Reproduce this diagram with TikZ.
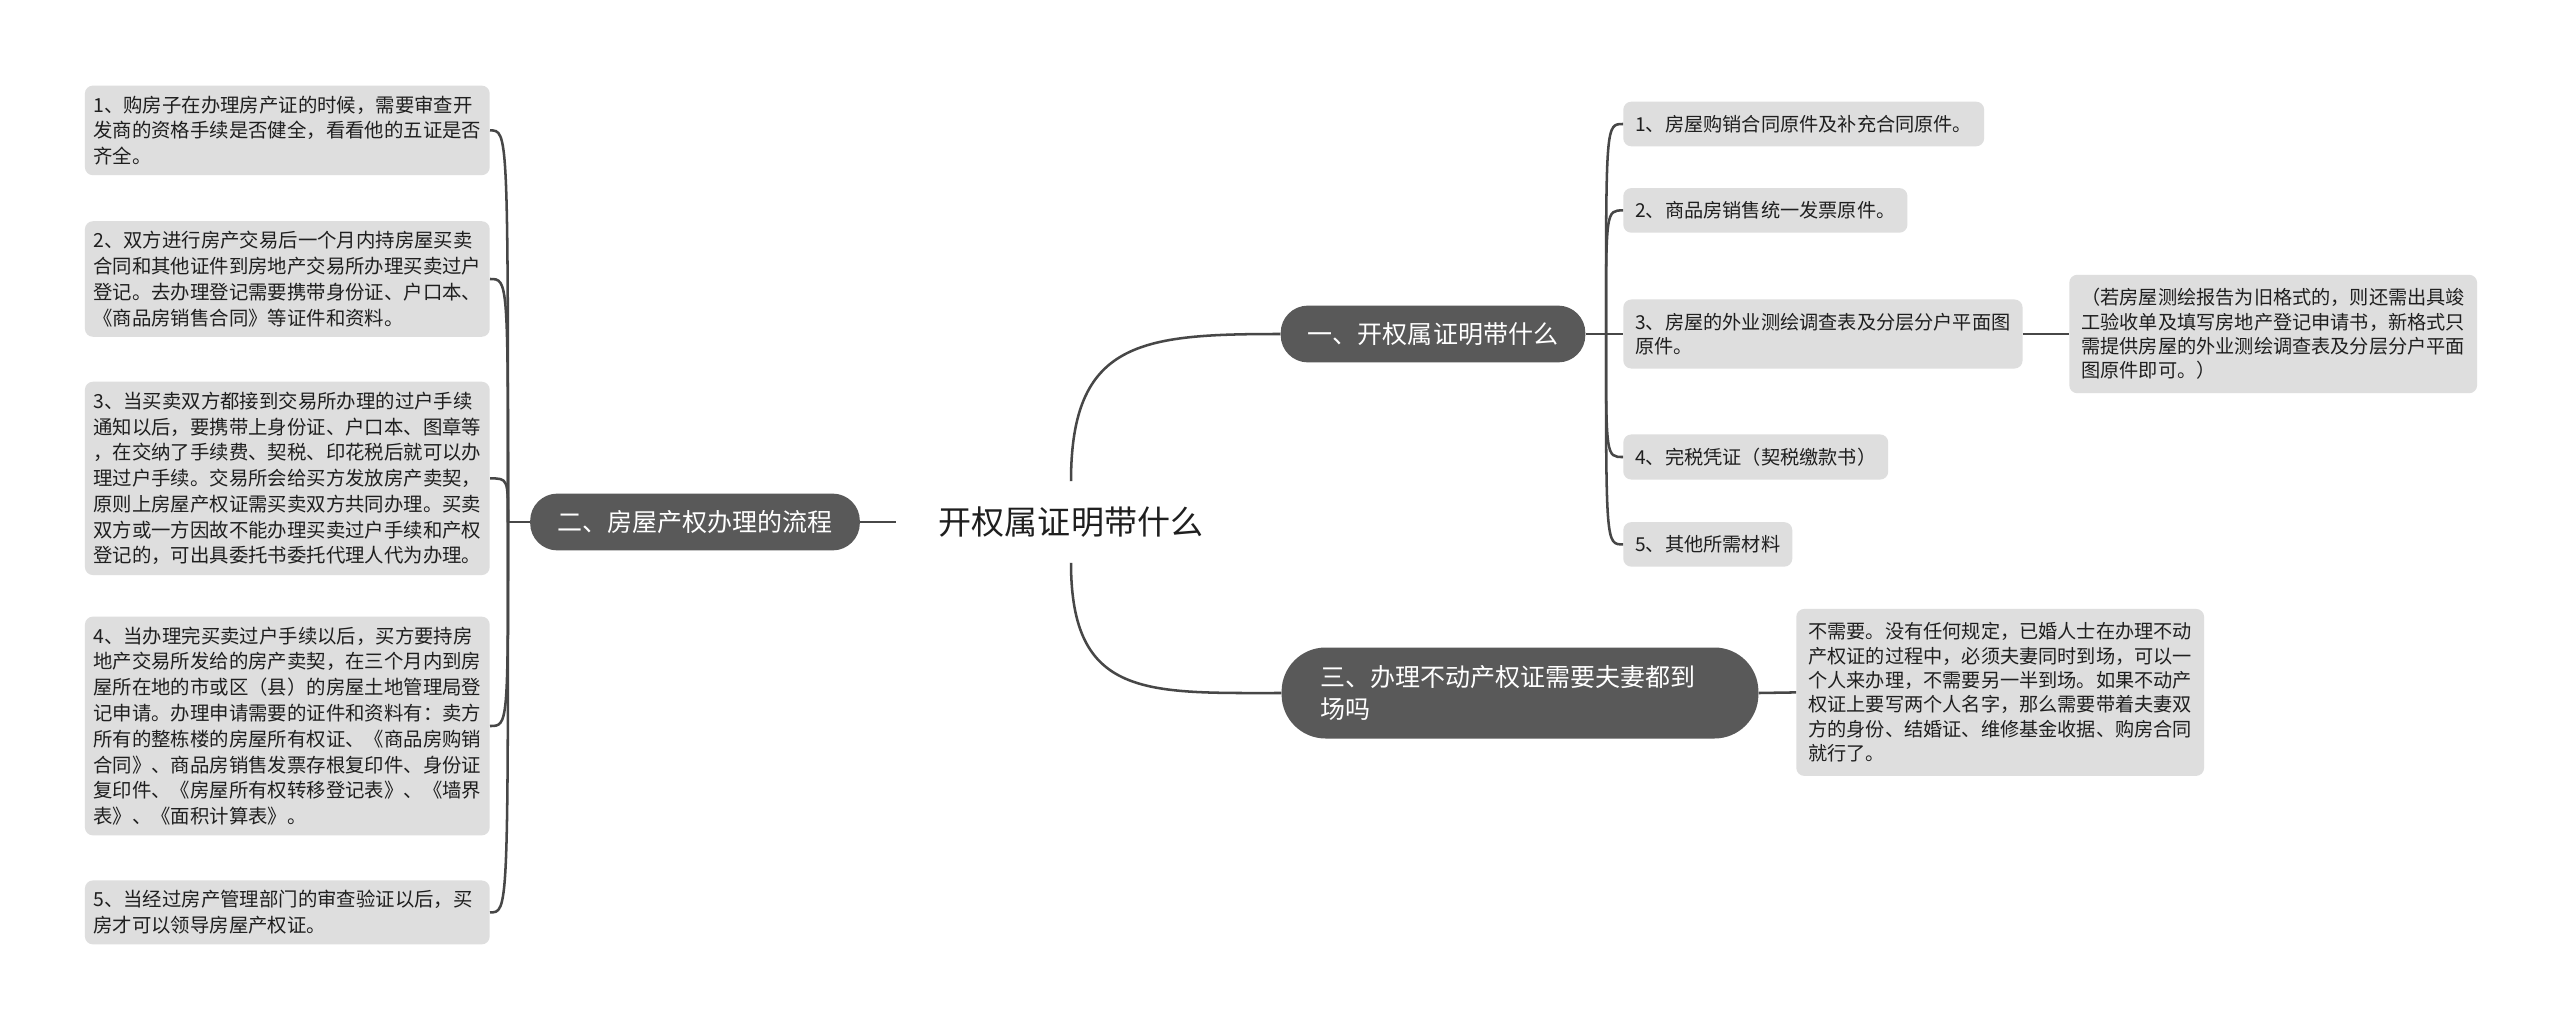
\documentclass[tikz,border=0pt]{standalone}
\usepackage{fontspec}
\setmainfont{Noto Sans CJK SC}
\definecolor{pillgray}{HTML}{595959}
\definecolor{boxgray}{HTML}{DEDEDE}
\definecolor{linkgray}{HTML}{474747}
\definecolor{inkgray}{HTML}{1F1F1F}

\begin{document}
\begin{tikzpicture}[
    root/.style={font=\fontsize{23.5}{28}\selectfont, text=inkgray,
      inner xsep=1.075cm, inner ysep=0pt, minimum height=2.025cm},
    pill/.style={fill=pillgray, text=white, rounded corners=0.68cm,
      font=\fontsize{17.8}{22.8}\selectfont, inner xsep=0.68cm,
      minimum height=1.42cm},
    lbox/.style={fill=boxgray, rounded corners=0.2cm, align=left,
      text width=9.7cm, inner xsep=0.21cm, inner ysep=0.25cm,
      font=\fontsize{13.8}{18.35}\selectfont, text=inkgray, anchor=east},
    rbox/.style={fill=boxgray, rounded corners=0.2cm, align=left,
      inner xsep=0.3cm, inner ysep=0.335cm,
      font=\fontsize{13.65}{17.4}\selectfont, text=inkgray, anchor=west},
    link/.style={draw=linkgray, line width=1.8pt}
  ]
  \fill[white] (0,0) rectangle (64,-25.775);
  \useasboundingbox (0,0) rectangle (64,-25.775);
  %---- centre ----
  \node[root] (root) at (26.775,-13.05) {开权属证明带什么};
  \node[pill] (b1) at (35.825,-8.35) {一、开权属证明带什么};
  \node[pill] (b2) at (17.375,-13.05) {二、房屋产权办理的流程};
  \node[pill, rounded corners=1.1cm, minimum height=2.275cm, align=left,
    text width=10cm, inner xsep=0.96cm] (b3) at (38.0,-17.325)
    {三、办理不动产权证需要夫妻都到\\场吗};
  \draw[link] (root.north) to[out=90,in=180,looseness=1.4] (b1.west);
  \draw[link] (root.south) to[out=-90,in=180,looseness=1.4] (b3.west);
  \draw[link] (root.west) -- (b2.east);
  %---- left: process ----
  \node[lbox] (l1) at (12.25,-3.26)
    {1、购房子在办理房产证的时候，需要审查开\\
     发商的资格手续是否健全，看看他的五证是否\\
     齐全。};
  \node[lbox] (l2) at (12.25,-6.975)
    {2、双方进行房产交易后一个月内持房屋买卖\\
     合同和其他证件到房地产交易所办理买卖过户\\
     登记。去办理登记需要携带身份证、户口本、\\
     《商品房销售合同》等证件和资料。};
  \node[lbox] (l3) at (12.25,-11.96)
    {3、当买卖双方都接到交易所办理的过户手续\\
     通知以后，要携带上身份证、户口本、图章等\\
     ，在交纳了手续费、契税、印花税后就可以办\\
     理过户手续。交易所会给买方发放房产卖契，\\
     原则上房屋产权证需买卖双方共同办理。买卖\\
     双方或一方因故不能办理买卖过户手续和产权\\
     登记的，可出具委托书委托代理人代为办理。};
  \node[lbox] (l4) at (12.25,-18.15)
    {4、当办理完买卖过户手续以后，买方要持房\\
     地产交易所发给的房产卖契，在三个月内到房\\
     屋所在地的市或区（县）的房屋土地管理局登\\
     记申请。办理申请需要的证件和资料有：卖方\\
     所有的整栋楼的房屋所有权证、《商品房购销\\
     合同》、商品房销售发票存根复印件、身份证\\
     复印件、《房屋所有权转移登记表》、《墙界\\
     表》、《面积计算表》。};
  \node[lbox] (l5) at (12.25,-22.81)
    {5、当经过房产管理部门的审查验证以后，买\\
     房才可以领导房屋产权证。};
  \coordinate (jl) at (12.7,-13.05);
  \draw[link] (b2.west) -- (jl);
  \draw[link] (jl) .. controls (jl |- l1.east) and (jl |- l1.east) .. (l1.east);
  \draw[link] (jl) .. controls (jl |- l2.east) and (jl |- l2.east) .. (l2.east);
  \draw[link] (jl) .. controls (jl |- l3.east) and (jl |- l3.east) .. (l3.east);
  \draw[link] (jl) .. controls (jl |- l4.east) and (jl |- l4.east) .. (l4.east);
  \draw[link] (jl) .. controls (jl |- l5.east) and (jl |- l5.east) .. (l5.east);
  %---- right: documents ----
  \node[rbox] (r1) at (40.575,-3.1) {1、房屋购销合同原件及补充合同原件。};
  \node[rbox] (r2) at (40.575,-5.26) {2、商品房销售统一发票原件。};
  \node[rbox] (r3) at (40.575,-8.35)
    {3、房屋的外业测绘调查表及分层分户平面图\\原件。};
  \node[rbox] (r4) at (40.575,-11.425) {4、完税凭证（契税缴款书）};
  \node[rbox] (r5) at (40.575,-13.61) {5、其他所需材料};
  \node[rbox] (r3c) at (51.725,-8.35)
    {（若房屋测绘报告为旧格式的，则还需出具竣\\
     工验收单及填写房地产登记申请书，新格式只\\
     需提供房屋的外业测绘调查表及分层分户平面\\
     图原件即可。）};
  \coordinate (jr) at (40.15,-8.35);
  \draw[link] (b1.east) -- (jr);
  \draw[link] (jr) .. controls (jr |- r1.west) and (jr |- r1.west) .. (r1.west);
  \draw[link] (jr) .. controls (jr |- r2.west) and (jr |- r2.west) .. (r2.west);
  \draw[link] (jr) -- (r3.west);
  \draw[link] (jr) .. controls (jr |- r4.west) and (jr |- r4.west) .. (r4.west);
  \draw[link] (jr) .. controls (jr |- r5.west) and (jr |- r5.west) .. (r5.west);
  \draw[link] (r3.east) -- (r3c.west);
  %---- right: couple ----
  \node[rbox] (b3c) at (44.9,-17.31)
    {不需要。没有任何规定，已婚人士在办理不动\\
     产权证的过程中，必须夫妻同时到场，可以一\\
     个人来办理，不需要另一半到场。如果不动产\\
     权证上要写两个人名字，那么需要带着夫妻双\\
     方的身份、结婚证、维修基金收据、购房合同\\
     就行了。};
  \draw[link] (b3.east) -- (b3c.west);
\end{tikzpicture}
\end{document}
